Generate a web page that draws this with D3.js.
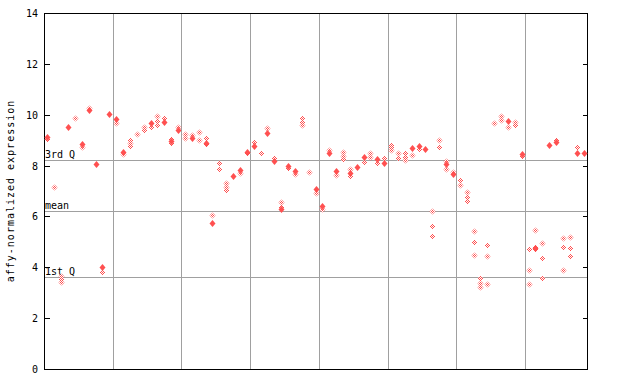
<!DOCTYPE html>
<html><head><meta charset="utf-8">
<script src="https://cdn.jsdelivr.net/npm/d3@7"></script>
<style>
html,body{margin:0;padding:0;background:#fff;}
svg{display:block;}
text{font-family:"DejaVu Sans Mono",monospace;font-size:10px;fill:#000;}
</style></head>
<body>
<script>
// Solid (filled) marker value per sample (null = none)
const solidValues = [9.13,null,null,9.53,null,8.84,10.17,8.07,4.02,10.04,
 9.82,8.55,null,null,null,9.69,null,9.73,8.98,9.40,
 null,9.07,null,8.90,5.75,null,null,7.59,7.83,8.55,
 8.78,null,9.29,8.19,6.29,7.98,7.79,null,null,7.08,
 6.42,8.48,7.80,null,7.72,7.96,8.35,null,8.24,8.11,
 null,null,null,8.68,8.77,8.66,null,null,8.06,7.65,
 null,null,null,null,null,null,null,9.76,null,8.47,
 null,4.76,null,8.81,8.91,null,null,8.51,8.49];
// Hatched (open) marker values per sample
const hatchedValues = [[9.05],[7.14],[3.65,3.54,3.42],[],[9.86],[8.74],[10.25],[],[3.83],[],
 [9.69],[8.44],[9.0,8.88,8.77],[9.23],[9.53,9.40],[9.53],[9.95,9.76,9.59],[9.86],[9.06,8.90],[9.50],
 [9.23,9.07],[9.20],[9.33,9.0],[9.10,8.85],[6.04],[8.09,7.86],[7.30,7.17,7.04],[],[7.72],[8.50],
 [8.91],[8.48],[9.46],[8.31],[6.55,6.37],[7.89],[7.67],[9.86,9.73,9.59],[7.76],[6.91],
 [6.29],[8.61],[7.61],[8.52,8.39,8.26],[7.85,7.58],[],[8.15],[8.48,8.35],[8.11],[8.28],
 [8.81,8.72,8.61],[8.50,8.31],[8.50,8.35,8.22],[8.40],[8.64],[],[6.21,5.62,5.23],[9.0,8.72],[8.19,7.88],[7.76],
 [7.43,7.22],[6.95,6.78,6.59],[5.41,4.98,4.47],[3.57,3.37,3.24],[4.86,4.43,3.33],[9.67],[9.95,9.79],[9.50],[9.70,9.61],[8.38],
 [4.71,3.88,3.33],[5.46,4.81,4.71],[4.94,4.35,3.57],[],[9.0],[5.14,4.79,3.88],[5.19,4.75,4.44],[8.72],[]];
const yTicks = [0,2,4,6,8,10,12,14];
const groupBreaks = [10,20,30,40,50,60,70];
const refLines = [{label:"3rd Q", value:8.20},{label:"mean", value:6.20},{label:"1st Q", value:3.62}];
const yTitle = "affy-normalized expression";

const W=640,H=384;
const L=44,R=587,T=13,B=369;
const svg=d3.select("body").append("svg").attr("width",W).attr("height",H);
const defs=svg.append("defs");
const pat=defs.append("pattern").attr("id","chk").attr("patternUnits","userSpaceOnUse")
  .attr("width",2).attr("height",2);
pat.append("rect").attr("width",2).attr("height",2).attr("fill","#fff");
pat.append("rect").attr("x",0).attr("y",0).attr("width",1).attr("height",1).attr("fill","#ff5050");
pat.append("rect").attr("x",1).attr("y",1).attr("width",1).attr("height",1).attr("fill","#ff5050");

const x=d3.scaleLinear().domain([0,solidValues.length]).range([L,R]);
const y=d3.scaleLinear().domain([0,14]).range([B,T]);

const g=svg.append("g").attr("shape-rendering","crispEdges");
// group separators
g.selectAll("line.vg").data(groupBreaks).enter().append("line")
  .attr("x1",d=>Math.round(x(d))+0.5).attr("x2",d=>Math.round(x(d))+0.5)
  .attr("y1",T).attr("y2",B).attr("stroke","#a0a0a0");
// reference lines
g.selectAll("line.hr").data(refLines).enter().append("line")
  .attr("x1",L).attr("x2",R).attr("y1",d=>Math.round(y(d.value))+0.5).attr("y2",d=>Math.round(y(d.value))+0.5)
  .attr("stroke","#a0a0a0");
svg.selectAll("text.rl").data(refLines).enter().append("text")
  .attr("x",L+1).attr("y",d=>Math.round(y(d.value))-2).text(d=>d.label);

// axes
const axL=d3.axisRight(y).tickValues(yTicks).tickSize(5).tickFormat("");
const axR=d3.axisLeft(y).tickValues(yTicks).tickSize(5).tickFormat("");
const gl=svg.append("g").attr("transform",`translate(${L+0.5},0)`).attr("shape-rendering","crispEdges").call(axL);
const gr=svg.append("g").attr("transform",`translate(${R+0.5},0)`).attr("shape-rendering","crispEdges").call(axR);
[gl,gr].forEach(a=>{a.select(".domain").remove();a.selectAll("line").attr("stroke","#000");});
svg.selectAll("text.yt").data(yTicks).enter().append("text")
  .attr("x",L-6).attr("y",d=>y(d)+4).attr("text-anchor","end").text(d=>d);
// frame
svg.append("rect").attr("x",L+0.5).attr("y",T+0.5).attr("width",R-L).attr("height",B-T)
  .attr("fill","none").attr("stroke","#000").attr("shape-rendering","crispEdges");

// title
svg.append("text").attr("transform",`translate(14,${(T+B)/2}) rotate(-90)`)
  .attr("text-anchor","middle").style("letter-spacing","1px").text(yTitle);

function diamond(cx,cy,hw,hh){
  cx=Math.round(cx)+0.5; cy=Math.round(cy)+0.5;
  return `M${cx},${cy-hh}L${cx+hw},${cy}L${cx},${cy+hh}L${cx-hw},${cy}Z`;
}
const hatchedPts=[];
hatchedValues.forEach((arr,i)=>arr.forEach(v=>hatchedPts.push({i,v})));
svg.selectAll("path.h").data(hatchedPts).enter().append("path")
  .attr("d",d=>diamond(x(d.i+0.5),y(d.v),3,3)).attr("fill","url(#chk)");
const solidPts=solidValues.map((v,i)=>({i,v})).filter(d=>d.v!==null);
svg.selectAll("path.s").data(solidPts).enter().append("path")
  .attr("d",d=>diamond(x(d.i+0.5),y(d.v),3,3.5)).attr("fill","#ff5050");
</script>
</body></html>
